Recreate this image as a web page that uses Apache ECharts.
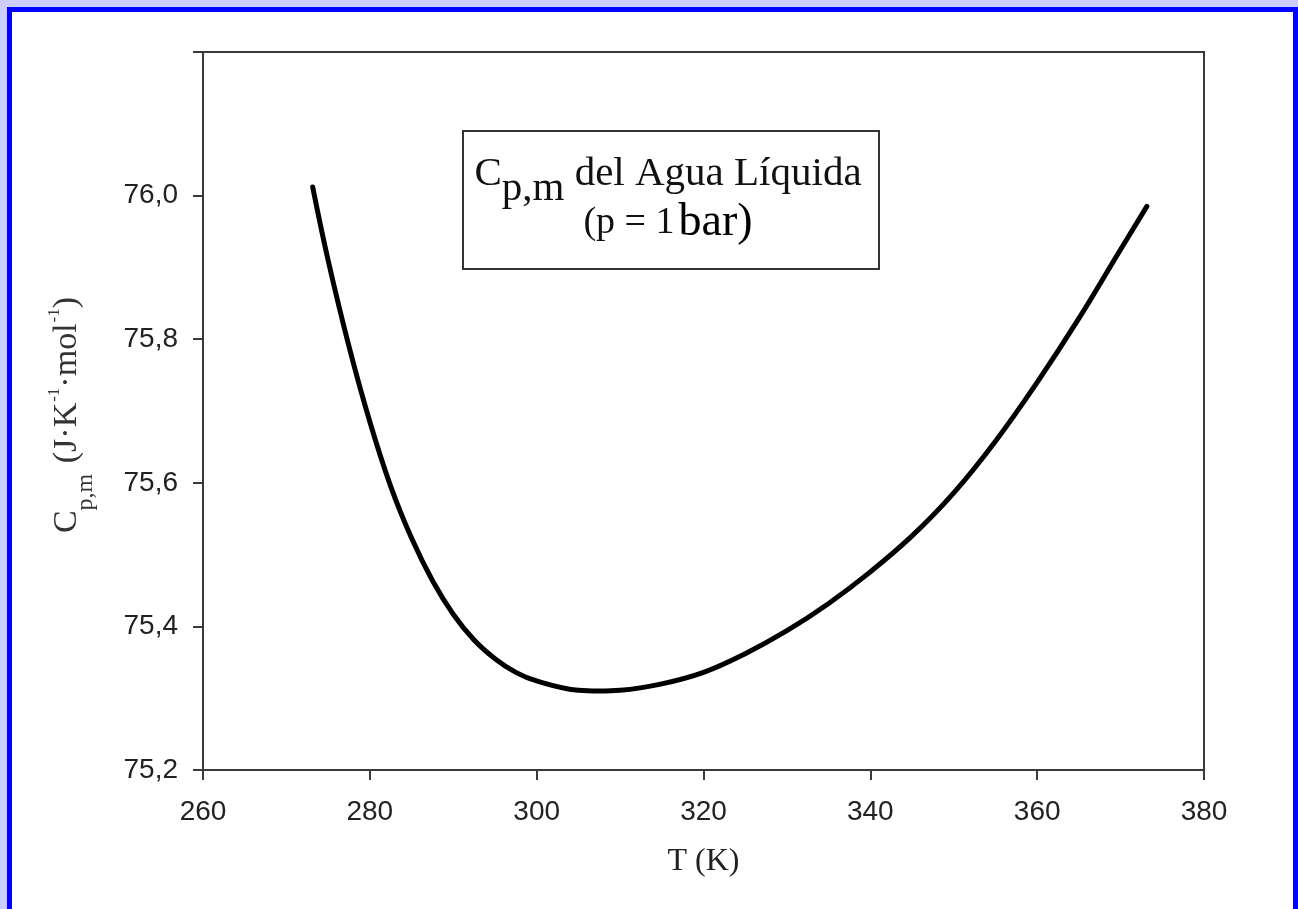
<!DOCTYPE html>
<html>
<head>
<meta charset="utf-8">
<title>Cp,m del Agua Líquida</title>
<script src="https://cdn.jsdelivr.net/npm/echarts@6/dist/echarts.min.js"></script>
<style>
  html, body { margin: 0; padding: 0; background: #ccccff; width: 1298px; height: 909px; overflow: hidden; }
  #frame { position: absolute; left: 7px; top: 7px; width: 1291px; height: 960px; box-sizing: border-box;
           border: 5px solid #0000ff; background: #ffffff; }
  #chart { position: absolute; left: 0; top: 0; width: 1298px; height: 909px; }
</style>
</head>
<body>
<div id="frame"></div>
<div id="chart"></div>
<script>
// Molar heat capacity of liquid water at p = 1 bar, from the freezing to the boiling point
const tempK = [273.15, 275, 277.5, 280, 282.5, 285, 287.5, 290, 292.5, 295, 297.5, 300, 305, 307.5, 310,
               315, 320, 325, 330, 335, 340, 345, 350, 355, 360, 365, 370, 373.15];
const cpValues = [76.012, 75.910, 75.790, 75.685, 75.595, 75.523, 75.464, 75.417, 75.381, 75.355, 75.336,
                  75.324, 75.311, 75.310, 75.311, 75.320, 75.336, 75.362, 75.394, 75.432, 75.476,
                  75.526, 75.586, 75.658, 75.740, 75.829, 75.925, 75.985];
const xTicks = [260, 280, 300, 320, 340, 360, 380];
const yTicks = [75.2, 75.4, 75.6, 75.8, 76.0];
const yTop = 76.2;

const seriesData = tempK.map((t, i) => [t, cpValues[i]]);

const sans = "'Liberation Sans', Arial, sans-serif";
const serif = "'Liberation Serif', 'Times New Roman', serif";
const axisGrey = '#3a3a3a';

const chart = echarts.init(document.getElementById('chart'), null, { renderer: 'canvas' });

chart.setOption({
  backgroundColor: 'transparent',
  animation: false,
  grid: {
    left: 203, top: 52, right: 94, bottom: 139,
    show: true, borderColor: axisGrey, borderWidth: 2, backgroundColor: 'transparent'
  },
  xAxis: {
    type: 'value',
    min: xTicks[0], max: xTicks[xTicks.length - 1], interval: 20,
    axisLine: { show: true, lineStyle: { color: axisGrey, width: 2 } },
    axisTick: { show: true, inside: false, length: 10, lineStyle: { color: axisGrey, width: 2 } },
    splitLine: { show: false },
    axisLabel: { margin: 28, fontSize: 28, color: '#222', fontFamily: sans },
    name: 'T (K)',
    nameLocation: 'middle',
    nameGap: 76,
    nameTextStyle: { fontFamily: serif, fontSize: 32, color: '#222' }
  },
  yAxis: {
    type: 'value',
    min: yTicks[0], max: yTop, interval: 0.2,
    axisLine: { show: true, lineStyle: { color: axisGrey, width: 2 } },
    axisTick: { show: true, inside: false, length: 10, lineStyle: { color: axisGrey, width: 2 } },
    splitLine: { show: false },
    axisLabel: {
      margin: 25, fontSize: 28, color: '#222', fontFamily: sans,
      formatter: v => (yTicks.some(t => Math.abs(t - v) < 1e-6) ? v.toFixed(1).replace('.', ',') : '')
    },
    name: '{m|C}{sub|p,m}{m| (J·K}{sup|-1}{m|·mol}{sup|-1}{end|)}',
    nameLocation: 'middle',
    nameRotate: 90,
    nameGap: 117,
    nameTextStyle: {
      fontFamily: serif, color: '#333',
      rich: {
        m: { fontFamily: serif, fontSize: 34, lineHeight: 40, verticalAlign: 'top', padding: [4, 0, 0, 0], color: '#333' },
        end: { fontFamily: serif, fontSize: 34, lineHeight: 40, verticalAlign: 'top', padding: [4, 8, 0, 0], color: '#333' },
        sub: { fontFamily: serif, fontSize: 24, lineHeight: 26, verticalAlign: 'top', padding: [28, 2, 0, 0], color: '#333' },
        sup: { fontFamily: serif, fontSize: 17, lineHeight: 18, verticalAlign: 'top', padding: [0, 0, 0, 1], color: '#333' }
      }
    }
  },
  series: [{
    type: 'line',
    data: seriesData,
    smooth: 0.4,
    showSymbol: false,
    lineStyle: { color: '#000', width: 5, cap: 'round', join: 'round' },
    z: 3
  }],
  graphic: [
    {
      type: 'rect',
      shape: { x: 463, y: 131, width: 416, height: 138 },
      style: { fill: '#fff', stroke: '#333', lineWidth: 2 },
      z: 10
    },
    {
      type: 'text',
      x: 668, y: 154,
      z: 11,
      style: {
        text: '{a|C}{s|p,m}{a| del Agua Líquida}\n{b|(p = 1}{c|bar)}',
        align: 'center', verticalAlign: 'top',
        fill: '#000', font: '41px ' + serif,
        rich: {
          a: { fontFamily: serif, fontSize: 41, lineHeight: 46, verticalAlign: 'top', fill: '#111' },
          s: { fontFamily: serif, fontSize: 41, lineHeight: 36, verticalAlign: 'top', padding: [15, 0, 0, 0], fill: '#111' },
          b: { fontFamily: serif, fontSize: 38, lineHeight: 46, verticalAlign: 'top', padding: [4, 0, 0, 0], fill: '#111' },
          c: { fontFamily: serif, fontSize: 46, lineHeight: 46, verticalAlign: 'top', padding: [0, 0, 0, 4], fill: '#000' }
        }
      }
    }
  ]
});
</script>
</body>
</html>
